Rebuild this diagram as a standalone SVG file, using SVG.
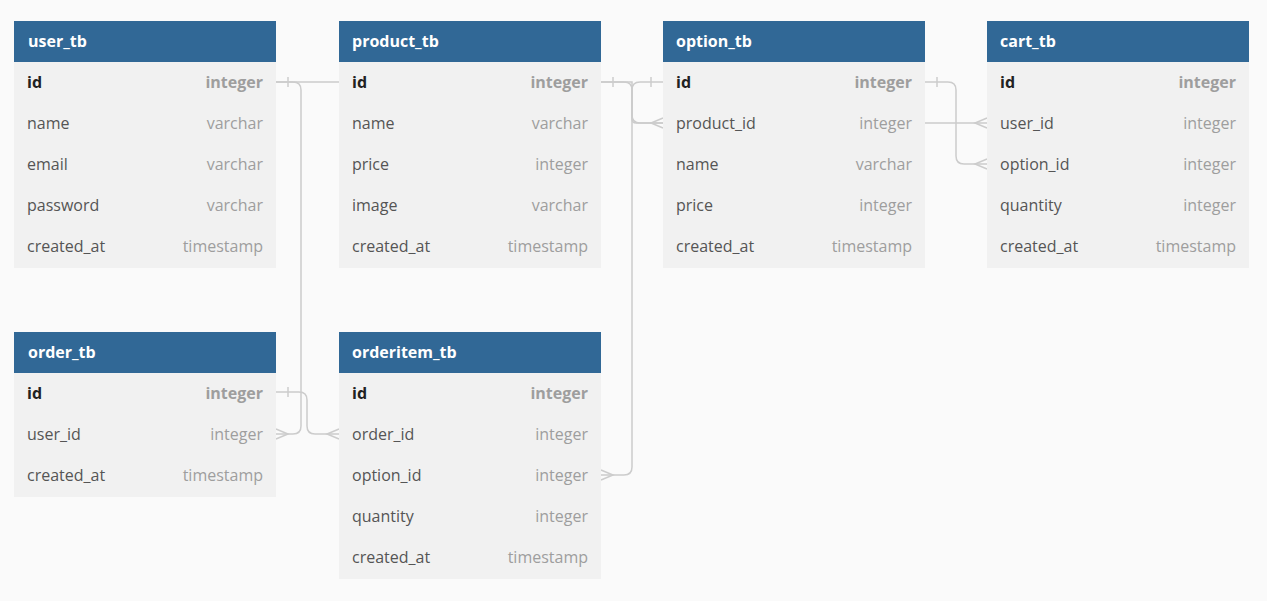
<svg xmlns="http://www.w3.org/2000/svg" width="1267" height="601" viewBox="0 0 1267 601">
<style>
.hd{fill:#316896}
.bd{fill:#f1f1f1}
.ht{font-family:"Open Sans",sans-serif;font-size:16px;font-weight:700;fill:#ffffff}
.fn{font-family:"Open Sans",sans-serif;font-size:16px;fill:#555555}
.ft{font-family:"Open Sans",sans-serif;font-size:16px;fill:#9e9e9e;text-anchor:end}
.pk{font-weight:700;fill:#222222}
.pkt{font-weight:700}
.ln{fill:none;stroke:#cccccc;stroke-width:1.5}
</style>
<rect width="1267" height="601" fill="#fafafa"/>
<g id="connectors" class="ln">
<path d="M276,82 H632 V119 Q632,123 636,123 H987"/>
<path d="M276,82 H293 Q301,82 301,90 V426 Q301,434 293,434 H276"/>
<path d="M288,77 V87"/>
<path d="M276,429 L288,434 L276,439"/>
<path d="M276,392 H299 Q307,392 307,400 V426 Q307,434 315,434 H339"/>
<path d="M288,387 V397"/>
<path d="M339,429 L327,434 L339,439"/>
<path d="M601,82 H624 Q632,82 632,90 V115 Q632,123 640,123 H663"/>
<path d="M613,77 V87"/>
<path d="M663,118 L651,123 L663,128"/>
<path d="M663,82 H640 Q632,82 632,90 V467 Q632,475 624,475 H601"/>
<path d="M651,77 V87"/>
<path d="M601,470 L613,475 L601,480"/>
<path d="M925,82 H948 Q956,82 956,90 V156 Q956,164 964,164 H987"/>
<path d="M937,77 V87"/>
<path d="M987,159 L975,164 L987,169"/>
<path d="M987,118 L975,123 L987,128"/>
</g>
<g id="user_tb">
<rect class="bd" x="14" y="62" width="262" height="206"/>
<rect class="hd" x="14" y="21" width="262" height="41"/>
<text class="ht" x="28" y="47">user_tb</text>
<text class="fn pk" x="27" y="88">id</text><text class="ft pkt" x="263" y="88">integer</text>
<text class="fn" x="27" y="129">name</text><text class="ft" x="263" y="129">varchar</text>
<text class="fn" x="27" y="170">email</text><text class="ft" x="263" y="170">varchar</text>
<text class="fn" x="27" y="211">password</text><text class="ft" x="263" y="211">varchar</text>
<text class="fn" x="27" y="252">created_at</text><text class="ft" x="263" y="252">timestamp</text>
</g>
<g id="product_tb">
<rect class="bd" x="339" y="62" width="262" height="206"/>
<rect class="hd" x="339" y="21" width="262" height="41"/>
<text class="ht" x="352" y="47">product_tb</text>
<text class="fn pk" x="352" y="88">id</text><text class="ft pkt" x="588" y="88">integer</text>
<text class="fn" x="352" y="129">name</text><text class="ft" x="588" y="129">varchar</text>
<text class="fn" x="352" y="170">price</text><text class="ft" x="588" y="170">integer</text>
<text class="fn" x="352" y="211">image</text><text class="ft" x="588" y="211">varchar</text>
<text class="fn" x="352" y="252">created_at</text><text class="ft" x="588" y="252">timestamp</text>
</g>
<g id="option_tb">
<rect class="bd" x="663" y="62" width="262" height="206"/>
<rect class="hd" x="663" y="21" width="262" height="41"/>
<text class="ht" x="676" y="47">option_tb</text>
<text class="fn pk" x="676" y="88">id</text><text class="ft pkt" x="912" y="88">integer</text>
<text class="fn" x="676" y="129">product_id</text><text class="ft" x="912" y="129">integer</text>
<text class="fn" x="676" y="170">name</text><text class="ft" x="912" y="170">varchar</text>
<text class="fn" x="676" y="211">price</text><text class="ft" x="912" y="211">integer</text>
<text class="fn" x="676" y="252">created_at</text><text class="ft" x="912" y="252">timestamp</text>
</g>
<g id="cart_tb">
<rect class="bd" x="987" y="62" width="262" height="206"/>
<rect class="hd" x="987" y="21" width="262" height="41"/>
<text class="ht" x="1000" y="47">cart_tb</text>
<text class="fn pk" x="1000" y="88">id</text><text class="ft pkt" x="1236" y="88">integer</text>
<text class="fn" x="1000" y="129">user_id</text><text class="ft" x="1236" y="129">integer</text>
<text class="fn" x="1000" y="170">option_id</text><text class="ft" x="1236" y="170">integer</text>
<text class="fn" x="1000" y="211">quantity</text><text class="ft" x="1236" y="211">integer</text>
<text class="fn" x="1000" y="252">created_at</text><text class="ft" x="1236" y="252">timestamp</text>
</g>
<g id="order_tb">
<rect class="bd" x="14" y="373" width="262" height="124"/>
<rect class="hd" x="14" y="332" width="262" height="41"/>
<text class="ht" x="28" y="358">order_tb</text>
<text class="fn pk" x="27" y="399">id</text><text class="ft pkt" x="263" y="399">integer</text>
<text class="fn" x="27" y="440">user_id</text><text class="ft" x="263" y="440">integer</text>
<text class="fn" x="27" y="481">created_at</text><text class="ft" x="263" y="481">timestamp</text>
</g>
<g id="orderitem_tb">
<rect class="bd" x="339" y="373" width="262" height="206"/>
<rect class="hd" x="339" y="332" width="262" height="41"/>
<text class="ht" x="352" y="358">orderitem_tb</text>
<text class="fn pk" x="352" y="399">id</text><text class="ft pkt" x="588" y="399">integer</text>
<text class="fn" x="352" y="440">order_id</text><text class="ft" x="588" y="440">integer</text>
<text class="fn" x="352" y="481">option_id</text><text class="ft" x="588" y="481">integer</text>
<text class="fn" x="352" y="522">quantity</text><text class="ft" x="588" y="522">integer</text>
<text class="fn" x="352" y="563">created_at</text><text class="ft" x="588" y="563">timestamp</text>
</g>
</svg>
